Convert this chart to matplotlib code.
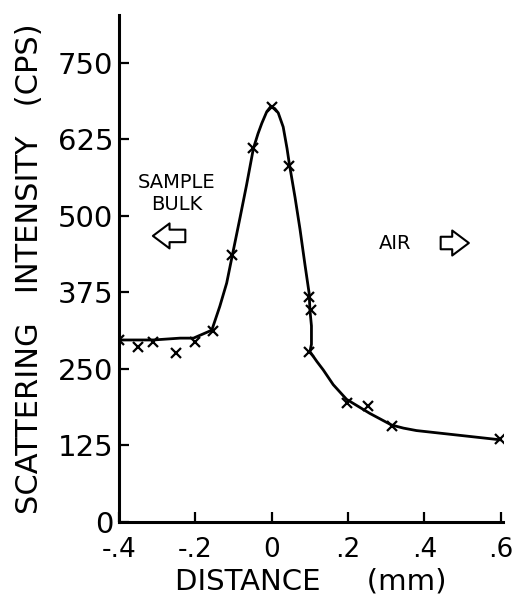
import numpy as np
import matplotlib
matplotlib.use("Agg")
from matplotlib import pyplot as plt

# measured points (x marks)
dist = [-0.40, -0.35, -0.31, -0.25, -0.20, -0.155, -0.103, -0.048, 0.0, 0.046, 0.098, 0.103, 0.098, 0.196, 0.251, 0.314, 0.597]
counts = [297, 286, 294, 275, 294, 312, 436, 610, 677, 581, 368, 346, 278, 194, 189, 156, 135]

# hand-drawn curve
curve_x = [-0.40, -0.31, -0.24, -0.205, -0.157, -0.136, -0.118, -0.103, -0.083, -0.066, -0.057, -0.048,
           -0.036, -0.026, -0.013, -0.003, 0.008, 0.017, 0.030, 0.040, 0.046, 0.061, 0.074, 0.087, 0.098,
           0.100, 0.104, 0.104, 0.100, 0.118, 0.135, 0.161, 0.196, 0.257, 0.314, 0.345, 0.379, 0.510, 0.597]
curve_y = [297, 297, 300, 300, 313, 352, 390, 436, 497, 550, 580, 610,
           634, 651, 670, 678, 675, 668, 645, 610, 585, 530, 478, 420, 373,
           346, 320, 290, 278, 262, 248, 224, 200, 177, 158, 153, 149, 140, 134]

yticks = [0, 125, 250, 375, 500, 625, 750]
xticks = [-0.4, -0.2, 0, 0.2, 0.4, 0.6]
xticklabels = ["-.4", "-.2", "0", ".2", ".4", ".6"]

fig = plt.figure(figsize=(5.13, 5.97), dpi=100)
ax = fig.add_axes([0.232, 0.126, 0.748, 0.849])

ax.plot(curve_x, curve_y, color="black", lw=2.0, solid_joinstyle="round")
ax.plot(dist, counts, "x", color="black", ms=7, mew=1.6)

ax.set_xlim(-0.4, 0.605)
ax.set_ylim(0, 828)
ax.spines["top"].set_visible(False)
ax.spines["right"].set_visible(False)
ax.spines["left"].set_linewidth(2.2)
ax.spines["bottom"].set_linewidth(2.2)

ax.set_yticks(yticks)
ax.set_yticklabels([str(v) for v in yticks])
ax.set_xticks(xticks)
ax.set_xticklabels(xticklabels)
ax.tick_params(direction="in", length=7, width=1.6)
ax.tick_params(axis="y", pad=4, labelsize=21)
ax.tick_params(axis="x", pad=11, labelsize=19)

ax.set_ylabel("SCATTERING   INTENSITY   (CPS)", fontsize=22, labelpad=10)
ax.set_xlabel("DISTANCE     (mm)", fontsize=21, labelpad=3)

ax.text(0.150, 0.670, "SAMPLE", transform=ax.transAxes, ha="center", va="center", fontsize=14)
ax.text(0.150, 0.625, "BULK", transform=ax.transAxes, ha="center", va="center", fontsize=14)
ax.text(0.719, 0.550, "AIR", transform=ax.transAxes, ha="center", va="center", fontsize=14)

arrow = dict(arrowstyle="simple,head_length=0.6,head_width=0.9,tail_width=0.45", mutation_scale=20,
             fc="white", ec="black", lw=1.5)
ax.annotate("", xy=(0.081, 0.564), xytext=(0.180, 0.564), xycoords="axes fraction", arrowprops=arrow)
ax.annotate("", xy=(0.919, 0.550), xytext=(0.831, 0.550), xycoords="axes fraction", arrowprops=arrow)

fig.savefig("out.png", dpi=100)
